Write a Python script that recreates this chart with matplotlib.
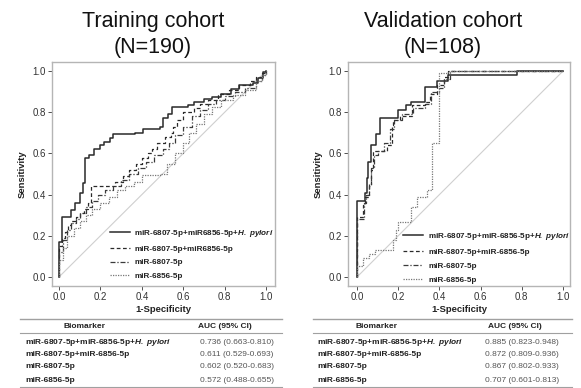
import matplotlib
matplotlib.use("Agg")
import matplotlib.pyplot as plt
from matplotlib.lines import Line2D

plt.rcParams['font.family'] = ['Liberation Sans', 'DejaVu Sans']
plt.rcParams['mathtext.fontset'] = 'custom'
plt.rcParams['mathtext.bfit'] = 'Liberation Sans:italic:bold'
plt.rcParams['mathtext.it'] = 'Liberation Sans:italic'
plt.rcParams['mathtext.rm'] = 'Liberation Sans'

# ---------------- data ----------------
titles = ["Training cohort\n(N=190)", "Validation cohort\n(N=108)"]

# ROC corner points (fpr where tpr jumps, new tpr)
train_comb_hp_fpr = [0, 0, 0.013, 0.06, 0.077, 0.10, 0.117, 0.126, 0.145, 0.17, 0.198, 0.217, 0.246, 0.26,
                     0.367, 0.406, 0.488, 0.50, 0.527, 0.546, 0.623, 0.65, 0.70, 0.74, 0.78, 0.83, 0.87,
                     0.937, 0.96, 0.985, 1.0]
train_comb_hp_tpr = [0, 0.17, 0.29, 0.325, 0.36, 0.41, 0.455, 0.578, 0.59, 0.62, 0.64, 0.655, 0.675, 0.694,
                     0.70, 0.72, 0.73, 0.77, 0.79, 0.825, 0.835, 0.85, 0.865, 0.875, 0.89, 0.915, 0.93,
                     0.94, 0.965, 0.995, 1.0]
train_comb_fpr = [0, 0, 0.015, 0.03, 0.045, 0.06, 0.08, 0.10, 0.12, 0.14, 0.155, 0.27, 0.31, 0.34, 0.37,
                  0.40, 0.43, 0.45, 0.475, 0.51, 0.54, 0.55, 0.57, 0.60, 0.65, 0.68, 0.72, 0.77, 0.82,
                  0.87, 0.92, 0.95, 0.98, 1.0]
train_comb_tpr = [0, 0.15, 0.19, 0.22, 0.25, 0.27, 0.29, 0.31, 0.33, 0.36, 0.44, 0.46, 0.49, 0.52, 0.55,
                  0.58, 0.60, 0.62, 0.65, 0.68, 0.70, 0.73, 0.76, 0.80, 0.82, 0.84, 0.86, 0.89, 0.91,
                  0.93, 0.95, 0.97, 0.99, 1.0]
train_6807_fpr = [0, 0, 0.02, 0.04, 0.06, 0.08, 0.10, 0.13, 0.16, 0.19, 0.22, 0.26, 0.30, 0.34, 0.38,
                  0.42, 0.46, 0.50, 0.53, 0.56, 0.60, 0.64, 0.68, 0.72, 0.76, 0.80, 0.85, 0.90, 0.95,
                  0.98, 1.0]
train_6807_tpr = [0, 0.12, 0.18, 0.23, 0.26, 0.28, 0.31, 0.34, 0.37, 0.40, 0.42, 0.44, 0.47, 0.50, 0.53,
                  0.56, 0.59, 0.62, 0.65, 0.69, 0.73, 0.78, 0.81, 0.84, 0.86, 0.88, 0.90, 0.92, 0.95,
                  0.98, 1.0]
train_6856_fpr = [0, 0, 0.02, 0.04, 0.07, 0.10, 0.13, 0.16, 0.20, 0.24, 0.28, 0.32, 0.36, 0.40, 0.49,
                  0.52, 0.56, 0.60, 0.63, 0.66, 0.70, 0.74, 0.78, 0.84, 0.90, 0.95, 0.98, 1.0]
train_6856_tpr = [0, 0.08, 0.14, 0.20, 0.24, 0.27, 0.30, 0.33, 0.36, 0.39, 0.42, 0.44, 0.46, 0.495, 0.50,
                  0.55, 0.60, 0.65, 0.70, 0.745, 0.79, 0.825, 0.86, 0.885, 0.91, 0.95, 0.98, 1.0]

valid_comb_hp_fpr = [0, 0, 0.039, 0.05, 0.055, 0.07, 0.09, 0.11, 0.20, 0.24, 0.26, 0.33, 0.39, 0.44, 0.775, 1.0]
valid_comb_hp_tpr = [0, 0.37, 0.41, 0.48, 0.56, 0.64, 0.695, 0.77, 0.81, 0.835, 0.85, 0.925, 0.95, 0.98, 1.0, 1.0]
valid_comb_fpr = [0, 0, 0.03, 0.04, 0.06, 0.07, 0.075, 0.145, 0.17, 0.175, 0.21, 0.265, 0.33, 0.355, 0.39,
                  0.42, 0.44, 1.0]
valid_comb_tpr = [0, 0.29, 0.35, 0.39, 0.44, 0.52, 0.61, 0.64, 0.74, 0.76, 0.78, 0.835, 0.85, 0.89, 0.93,
                  0.97, 1.0, 1.0]
valid_6807_fpr = [0, 0, 0.035, 0.045, 0.06, 0.07, 0.08, 0.10, 0.13, 0.16, 0.18, 0.22, 0.27, 0.33, 0.36,
                  0.40, 0.42, 0.45, 1.0]
valid_6807_tpr = [0, 0.28, 0.36, 0.40, 0.45, 0.53, 0.59, 0.61, 0.65, 0.72, 0.76, 0.79, 0.82, 0.84, 0.90,
                  0.92, 0.96, 1.0, 1.0]
valid_6856_fpr = [0, 0, 0.03, 0.06, 0.088, 0.175, 0.19, 0.20, 0.26, 0.29, 0.34, 0.365, 0.365, 0.40, 0.44, 1.0]
valid_6856_tpr = [0, 0.055, 0.09, 0.11, 0.13, 0.18, 0.23, 0.265, 0.34, 0.39, 0.42, 0.49, 0.65, 0.99, 1.0, 1.0]

legend_labels = [
    ["miR-6807-5p+miR6856-5p+$\\mathbfit{H.\\ pylori}$", "miR-6807-5p+miR6856-5p", "miR-6807-5p", "miR-6856-5p"],
    ["miR-6807-5p+miR-6856-5p+$\\mathbfit{H.\\ pylori}$", "miR-6807-5p+miR-6856-5p", "miR-6807-5p", "miR-6856-5p"],
]
table_markers = ["miR-6807-5p+miR-6856-5p+$\\mathbfit{H.\\ pylori}$", "miR-6807-5p+miR-6856-5p",
                 "miR-6807-5p", "miR-6856-5p"]
train_auc = ["0.736 (0.663-0.810)", "0.611 (0.529-0.693)", "0.602 (0.520-0.683)", "0.572 (0.488-0.655)"]
valid_auc = ["0.885 (0.823-0.948)", "0.872 (0.809-0.936)", "0.867 (0.802-0.933)", "0.707 (0.601-0.813)"]
ticks = [0.0, 0.2, 0.4, 0.6, 0.8, 1.0]
tick_labels = ["0.0", "0.2", "0.4", "0.6", "0.8", "1.0"]

panels = [
    [(train_comb_hp_fpr, train_comb_hp_tpr), (train_comb_fpr, train_comb_tpr),
     (train_6807_fpr, train_6807_tpr), (train_6856_fpr, train_6856_tpr)],
    [(valid_comb_hp_fpr, valid_comb_hp_tpr), (valid_comb_fpr, valid_comb_tpr),
     (valid_6807_fpr, valid_6807_tpr), (valid_6856_fpr, valid_6856_tpr)],
]
aucs = [train_auc, valid_auc]

# ---------------- styling ----------------
W, H = 581, 388
fig = plt.figure(figsize=(W / 100, H / 100), dpi=100)

def fx(px):
    return px / W

def fy(py):
    return 1 - py / H

styles = [
    dict(color='#2a2a2a', lw=1.1, ls='-'),
    dict(color='#2a2a2a', lw=0.9, ls=(0, (3, 2))),
    dict(color='#3a3a3a', lw=0.9, ls=(0, (4, 1.5, 1, 1.5))),
    dict(color='#777777', lw=0.9, ls=(0, (1, 1))),
]

ax_boxes = [(52, 62, 275, 286), (348, 62, 570, 286)]
xlims = [(-0.034, 1.043), (-0.044, 1.034)]
title_cx = [153, 443]
table_x = [(20, 282), (313, 572)]
text_x = [25, 317]
auc_x = [200, 485]
hdr_bio_x = [85, 377]
hdr_auc_x = [225, 515]
legend_anchor = [(0.245, 0.275), (0.235, 0.26)]

for i in range(2):
    x0, y0, x1, y1 = ax_boxes[i]
    ax = fig.add_axes([fx(x0), fy(y1), fx(x1) - fx(x0), fy(y0) - fy(y1)])
    ax.plot([0, 1], [0, 1], color='#cfcfcf', lw=0.8, zorder=1)
    for (fp, tp), st in zip(panels[i], styles):
        ax.plot(fp, tp, drawstyle='steps-post', zorder=3, **st)
    ax.set_xlim(*xlims[i])
    ax.set_ylim(-0.044, 1.044)
    ax.set_xticks(ticks)
    ax.set_xticklabels(tick_labels)
    ax.set_yticks(ticks)
    ax.set_yticklabels(tick_labels)
    ax.tick_params(labelsize=7, colors='#333333', length=3, width=0.6, pad=1.5)
    for s in ax.spines.values():
        s.set_color('#b5b5b5')
        s.set_linewidth(1.0)
    ax.set_ylabel("Sensitivity", fontsize=6.8, fontweight='bold', color='#222222', labelpad=4)
    ax.set_xlabel("1-Specificity", fontsize=6.8, fontweight='bold', color='#222222', labelpad=2)

    handles = [Line2D([], [], **st) for st in styles]
    leg = ax.legend(handles, legend_labels[i], loc='upper left', bbox_to_anchor=legend_anchor[i],
                    frameon=False, handlelength=2.4, handletextpad=0.6, labelspacing=0.75,
                    prop=dict(size=5.9, weight='bold'), borderaxespad=0)
    for t in leg.get_texts():
        t.set_color('#222222')

    fig.text(fx(title_cx[i]), fy(34.5), titles[i], ha='center', va='center', fontsize=15.5,
             color='#111111', linespacing=1.3)

    # table
    tx0, tx1 = table_x[i]
    fig.add_artist(Line2D([fx(tx0), fx(tx1)], [fy(319), fy(319)], color='#a0a0a0', lw=1.0))
    fig.add_artist(Line2D([fx(tx0), fx(tx1)], [fy(333), fy(333)], color='#a0a0a0', lw=0.8))
    fig.add_artist(Line2D([fx(tx0), fx(tx1)], [fy(387), fy(387)], color='#a0a0a0', lw=0.8))
    fig.text(fx(hdr_bio_x[i]), fy(326.5), "Biomarker", ha='center', va='center', fontsize=6,
             fontweight='bold', color='#222222')
    fig.text(fx(hdr_auc_x[i]), fy(326.5), "AUC (95% CI)", ha='center', va='center', fontsize=6,
             fontweight='bold', color='#222222')
    row_y = [342, 354.5, 367, 380]
    for r in range(4):
        fig.text(fx(text_x[i]), fy(row_y[r]), table_markers[r], ha='left', va='center', fontsize=6,
                 fontweight='bold', color='#222222')
        fig.text(fx(auc_x[i]), fy(row_y[r]), aucs[i][r], ha='left', va='center', fontsize=6,
                 color='#555555')

fig.savefig("out.png", dpi=100)
